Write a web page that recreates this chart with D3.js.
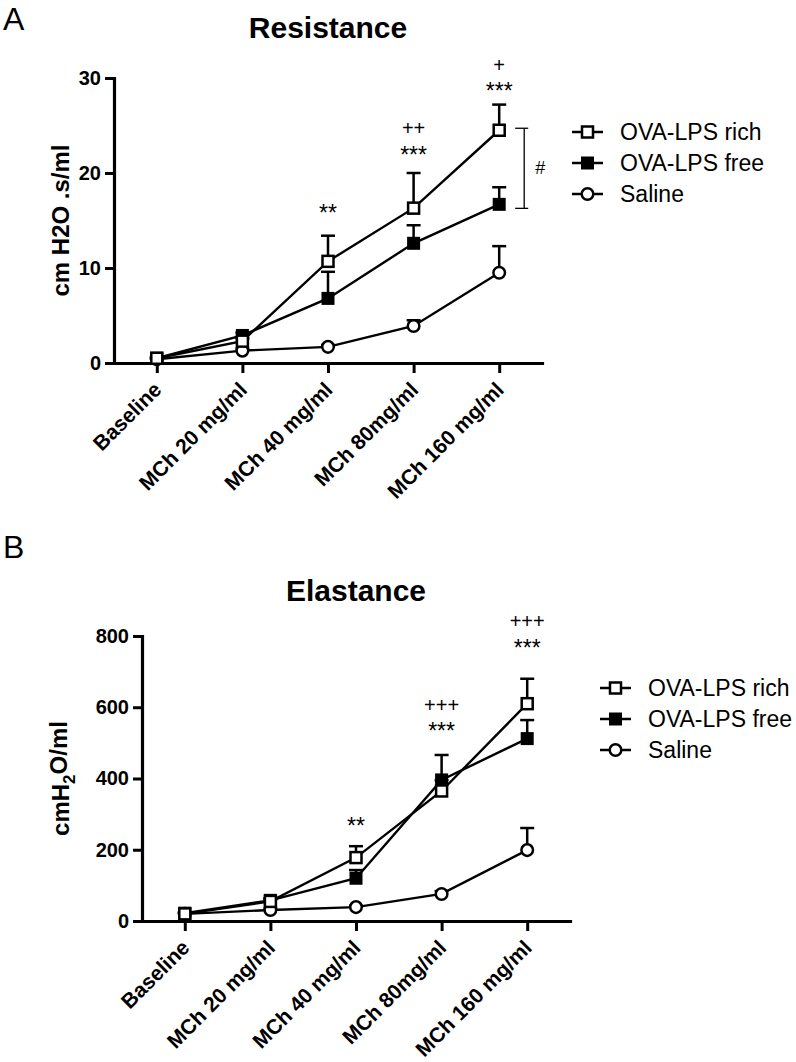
<!DOCTYPE html>
<html><head><meta charset="utf-8">
<script src="https://cdn.jsdelivr.net/npm/d3@7"></script>
<style>
body{margin:0;background:#fff;}
svg{display:block;font-family:"Liberation Sans",Arial,sans-serif;}
</style></head>
<body><svg id="c" width="796" height="1062"></svg>
<script>
// ---------- DATA ----------
const categories = ["Baseline","MCh 20 mg/ml","MCh 40 mg/ml","MCh 80mg/ml","MCh 160 mg/ml"];
const seriesNames = ["OVA-LPS rich","OVA-LPS free","Saline"];

const resRich      = [0.5, 2.3, 10.7, 16.3, 24.5];
const resRichErr   = [0.1, 0.3, 2.7, 3.7, 2.7];
const resFree      = [0.5, 2.9, 6.8, 12.6, 16.7];
const resFreeErr   = [0.1, 0.3, 2.8, 1.9, 1.8];
const resSaline    = [0.4, 1.3, 1.7, 3.9, 9.5];
const resSalineErr = [0.05, 0.2, 0.2, 0.6, 2.8];
const resTicks     = [0, 10, 20, 30];

const elaRich      = [20, 55, 178, 365, 610];
const elaRichErr   = [3, 6, 32, 30, 70];
const elaFree      = [22, 58, 120, 396, 512];
const elaFreeErr   = [3, 6, 23, 70, 52];
const elaSaline    = [20, 31, 39, 76, 199];
const elaSalineErr = [2, 4, 4, 8, 62];
const elaTicks     = [0, 200, 400, 600, 800];

// annotations: [category index, label, y value]
const resAnnot = [[2,"**",15.0],[3,"++",24.0],[3,"***",21.1],[4,"+",30.6],[4,"***",27.8]];
const elaAnnot = [[2,"**",243],[3,"+++",587],[3,"***",510],[4,"+++",822],[4,"***",745]];

// ---------- DRAW ----------
const svg = d3.select("#c");
const FONT = '"Liberation Sans",Arial,sans-serif';

const panels = [
  {letter:"A", letterY:30, title:"Resistance", titleY:38,
   x0:114, x1:542, yTop:78, yBot:363, ymax:30, ticks:resTicks,
   series:[[resRich,resRichErr],[resFree,resFreeErr],[resSaline,resSalineErr]],
   annot:resAnnot, ylabel:"cm H2O .s/ml", sub:false,
   legX:572, legY:[132,163,194], bracket:true},
  {letter:"B", letterY:558, title:"Elastance", titleY:601,
   x0:142, x1:570, yTop:636, yBot:921, ymax:800, ticks:elaTicks,
   series:[[elaRich,elaRichErr],[elaFree,elaFreeErr],[elaSaline,elaSalineErr]],
   annot:elaAnnot, ylabel:null, sub:true,
   legX:600, legY:[688,719,750], bracket:false}
];

function marker(g, type, cx, cy){
  if(type===0){
    g.append("rect").attr("x",cx-5.5).attr("y",cy-5.5).attr("width",11).attr("height",11)
      .attr("fill","#fff").attr("stroke","#000").attr("stroke-width",2.5);
  } else if(type===1){
    g.append("rect").attr("x",cx-6.5).attr("y",cy-6.5).attr("width",13).attr("height",13)
      .attr("fill","#000");
  } else {
    g.append("circle").attr("cx",cx).attr("cy",cy).attr("r",5.8)
      .attr("fill","#fff").attr("stroke","#000").attr("stroke-width",2.5);
  }
}

panels.forEach(p=>{
  const x = d3.scalePoint().domain(categories).range([p.x0,p.x1]).padding(0.5);
  const y = d3.scaleLinear().domain([0,p.ymax]).range([p.yBot,p.yTop]);
  const g = svg.append("g");

  g.append("text").attr("x",3).attr("y",p.letterY).attr("font-family",FONT)
    .attr("font-size",32).text(p.letter);
  g.append("text").attr("x",(p.x0+p.x1)/2).attr("y",p.titleY).attr("text-anchor","middle")
    .attr("font-family",FONT).attr("font-size",30).attr("font-weight","bold").text(p.title);

  const ya = g.append("g").attr("transform",`translate(${p.x0},0)`)
    .call(d3.axisLeft(y).tickValues(p.ticks).tickSize(9).tickSizeOuter(0).tickPadding(4));
  const xa = g.append("g").attr("transform",`translate(0,${p.yBot})`)
    .call(d3.axisBottom(x).tickSize(10).tickSizeOuter(0).tickFormat(""));
  [ya,xa].forEach(a=>{
    a.select(".domain").attr("stroke","#000").attr("stroke-width",3.2).attr("stroke-linecap","square");
    a.selectAll(".tick line").attr("stroke","#000").attr("stroke-width",3);
  });
  ya.selectAll(".tick text").attr("font-family",FONT).attr("font-size",20)
    .attr("font-weight","bold").attr("fill","#000");

  g.selectAll(".xl").data(categories).enter().append("text")
    .attr("class","xl")
    .attr("transform",d=>`translate(${x(d)+6},${p.yBot+28}) rotate(-45)`)
    .attr("text-anchor","end").attr("font-family",FONT).attr("font-size",21)
    .attr("font-weight","bold").text(d=>d);

  const yl = g.append("text")
    .attr("transform",`translate(61,${(p.yTop+p.yBot)/2}) rotate(-90)`)
    .attr("text-anchor","middle").attr("dy","0.35em").attr("font-family",FONT)
    .attr("font-size",24).attr("font-weight","bold");
  if(p.sub){
    yl.append("tspan").text("cmH");
    yl.append("tspan").text("2").attr("font-size",17).attr("dy","0.3em");
    yl.append("tspan").text("O/ml").attr("dy","-0.3em");
  } else yl.text(p.ylabel);

  const line = d3.line().x((d,i)=>x(categories[i])).y(d=>y(d));
  const order = [2,1,0];
  order.forEach(si=>{
    g.append("path").datum(p.series[si][0]).attr("d",line)
      .attr("fill","none").attr("stroke","#000").attr("stroke-width",2.4);
  });
  order.forEach(si=>{
    const [vals,errs] = p.series[si];
    vals.forEach((v,i)=>{
      const cx = x(categories[i]), top = y(v+errs[i]);
      g.append("line").attr("x1",cx).attr("x2",cx).attr("y1",y(v)).attr("y2",top)
        .attr("stroke","#000").attr("stroke-width",2.5);
      g.append("line").attr("x1",cx-7).attr("x2",cx+7).attr("y1",top).attr("y2",top)
        .attr("stroke","#000").attr("stroke-width",2.5);
    });
  });
  order.forEach(si=>{
    p.series[si][0].forEach((v,i)=>marker(g,si,x(categories[i]),y(v)));
  });

  p.annot.forEach(a=>{
    const isStar = a[1].indexOf("*")>=0;
    g.append("text").attr("x",x(categories[a[0]])).attr("y",y(a[2]))
      .attr("text-anchor","middle").attr("font-family",FONT)
      .attr("font-size",isStar?23:20).text(a[1]);
  });

  if(p.bracket){
    const last = categories[categories.length-1];
    const bx = x(last)+25;
    const yA = y(p.series[0][0][4]), yB = y(p.series[1][0][4]);
    g.append("line").attr("x1",bx).attr("x2",bx).attr("y1",yA-2).attr("y2",yB+4)
      .attr("stroke","#000").attr("stroke-width",1.3);
    [yA-2,yB+4].forEach(yy=>g.append("line").attr("x1",bx-9).attr("x2",bx+4)
      .attr("y1",yy).attr("y2",yy).attr("stroke","#000").attr("stroke-width",1.3));
    g.append("text").attr("x",bx+16).attr("y",(yA+yB)/2).attr("dy","0.35em")
      .attr("text-anchor","middle").attr("font-family",FONT).attr("font-size",18).text("#");
  }

  seriesNames.forEach((n,i)=>{
    const ly = p.legY[i];
    g.append("line").attr("x1",p.legX).attr("x2",p.legX+31).attr("y1",ly).attr("y2",ly)
      .attr("stroke","#000").attr("stroke-width",2.5);
    marker(g,i,p.legX+15.5,ly);
    g.append("text").attr("x",p.legX+48).attr("y",ly).attr("dy","0.35em")
      .attr("font-family",FONT).attr("font-size",23).text(n);
  });
});
</script></body></html>
